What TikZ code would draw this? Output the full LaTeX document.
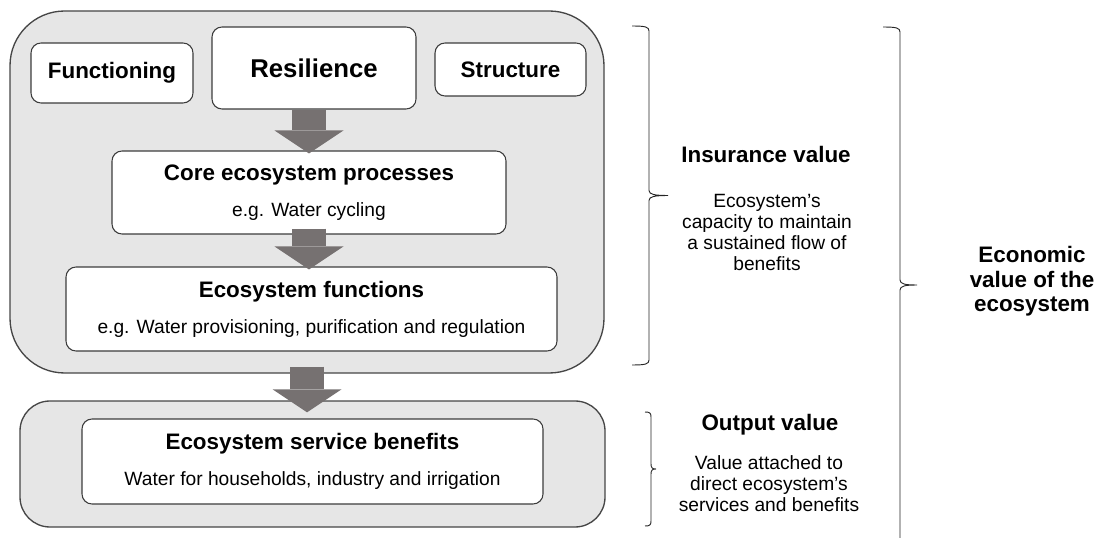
\documentclass[tikz,border=0pt]{standalone}
\usepackage{fontspec}
\setmainfont{Liberation Sans}
\usetikzlibrary{positioning,arrows.meta}
\definecolor{panelfill}{RGB}{230,230,230}
\definecolor{panelline}{RGB}{70,70,70}
\definecolor{boxline}{RGB}{60,60,60}
\definecolor{arrowgrey}{RGB}{118,113,113}
\newcommand{\boxtitle}[1]{{\fontsize{16.8}{20}\selectfont\bfseries #1}}
% x, top, bottom, hook, tip
\newcommand{\valuebrace}[5]{%
\draw[braceline] (#1,#2) .. controls ({#1+0.8*#4},#2) and ({#1+#4},{#2+1}) .. ({#1+#4},{#2+5})
 -- ({#1+#4},{(#2+#3)/2-5}) .. controls ({#1+#4},{(#2+#3)/2-1}) and ({#1+#4+0.3*#5},{(#2+#3)/2}) .. ({#1+#4+#5},{(#2+#3)/2})
 .. controls ({#1+#4+0.3*#5},{(#2+#3)/2}) and ({#1+#4},{(#2+#3)/2+1}) .. ({#1+#4},{(#2+#3)/2+5})
 -- ({#1+#4},{#3-5}) .. controls ({#1+#4},{#3-1}) and ({#1+0.8*#4},#3) .. (#1,#3);}
\tikzset {
panel/.style={shape=rectangle,draw=panelline,fill=panelfill,line width=1pt},
item/.style={shape=rectangle,draw=boxline,fill=white,rounded corners=7.5pt,line width=0.8pt,align=center,inner sep=0pt,font=\fontsize{14.4}{18}\selectfont},
headfont/.style={font=\fontsize{16.8}{20}\selectfont\bfseries},
notefont/.style={font=\fontsize{14.4}{15.6}\selectfont,align=center,inner sep=0pt},
flow/.style={draw=arrowgrey,line width=25.5pt,-{Triangle[width=51.75pt,length=17.25pt,line width=0pt,fill=arrowgrey]}},
braceline/.style={draw=black!85,line width=0.7pt}
}
\begin{document}
\begin{tikzpicture}
[x=0.75pt,y=-0.75pt]
\useasboundingbox (0,0) rectangle (1106,538);
\node[panel,rounded corners=41pt,minimum width=445.5pt,minimum height=271.5pt] (ecosystem) at (307,192) {};
\node[panel,rounded corners=22.5pt,minimum width=438.75pt,minimum height=94.5pt] (output panel) at (312.5,464) {};
\node[item,headfont,minimum width=121.5pt,minimum height=45pt] (functioning) at (112,73) {Functioning};
\node[item,font=\fontsize{19.3}{23}\selectfont\bfseries,minimum width=153pt,minimum height=61.5pt] (resilience) at (314,68) {Resilience};
\node[item,headfont,minimum width=113.25pt,minimum height=39.75pt] (structure) at (510.5,69.5) {Structure};
\node[item,minimum width=295.5pt,minimum height=62.25pt] (core processes) at (309,192.5) {\boxtitle{Core ecosystem processes}\\[9pt]e.g. Water cycling};
\node[item,minimum width=368.25pt,minimum height=63pt] (eco functions) at (311.5,309) {\boxtitle{Ecosystem functions}\\[9pt]e.g. Water provisioning, purification and regulation};
\node[item,minimum width=345.75pt,minimum height=63.75pt] (service benefits) at (312.5,461.5) {\boxtitle{Ecosystem service benefits}\\[9pt]Water for households, industry and irrigation};

\draw[flow,shorten >=-2.25pt] (resilience.south -| core processes.north) -- (core processes.north);
\draw[flow,shorten <=-4.5pt,shorten >=-2.25pt] (core processes.south) -- (core processes.south |- eco functions.north);
\draw[flow,shorten <=-5.25pt,shorten >=-9pt] (ecosystem.south) -- (ecosystem.south |- output panel.north);

\valuebrace{632}{26}{365}{17}{19}
\valuebrace{645}{412}{526}{6}{5}
\valuebrace{883}{27}{543}{17}{17}

\node[headfont,anchor=base] (insurance) at (766,163) {Insurance value};
\node[notefont] (insurance note) at (767,232.5) {Ecosystem’s\\capacity to maintain\\a sustained flow of\\benefits};
\node[headfont,anchor=base] (output) at (770,430) {Output value};
\node[notefont] (output note) at (769,483.5) {Value attached to\\direct ecosystem’s\\services and benefits};
\node[align=center,inner sep=0pt,font=\fontsize{16.8}{18.4}\selectfont\bfseries] (economic) at (1032,281.6) {Economic\\value of the\\ecosystem};
\end{tikzpicture}
\end{document}
